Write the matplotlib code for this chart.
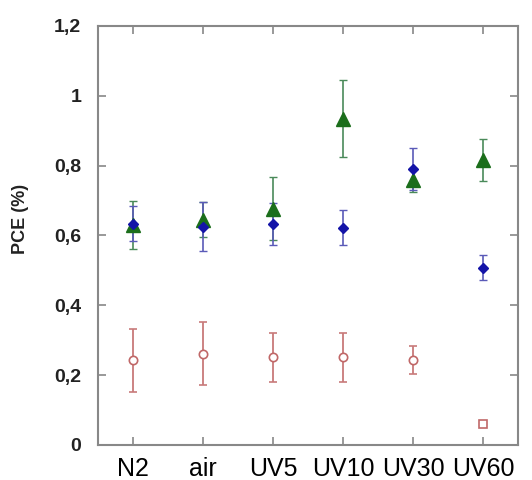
import numpy as np
import matplotlib.pyplot as plt

plt.rcParams['font.family'] = ['Liberation Sans', 'DejaVu Sans']

categories = ['N2', 'air', 'UV5', 'UV10', 'UV30', 'UV60']

green_pce = [0.63, 0.645, 0.677, 0.934, 0.758, 0.815]
green_err = [0.07, 0.05, 0.09, 0.11, 0.035, 0.06]

blue_pce = [0.634, 0.625, 0.634, 0.622, 0.789, 0.508]
blue_err = [0.05, 0.07, 0.06, 0.05, 0.06, 0.037]

red_pce = [0.243, 0.261, 0.251, 0.251, 0.243]
red_err = [0.09, 0.09, 0.07, 0.07, 0.04]
red_uv60 = 0.06

x = np.arange(len(categories))

fig = plt.figure(figsize=(5.32, 4.8), dpi=100)
ax = fig.add_axes([0.184, 0.073, 0.79, 0.873])

ax.errorbar(x[:5], red_pce, yerr=red_err, fmt='o', mfc='white', mec='#c06868',
            ms=6, mew=1.2, ecolor='#c87a7a', elinewidth=1.3, capsize=3)
ax.plot(x[5], red_uv60, 's', mfc='white', mec='#c06868', ms=6, mew=1.2)

ax.errorbar(x, green_pce, yerr=green_err, fmt='^', color='#1b6e1b', ms=10,
            ecolor='#4a8a5a', elinewidth=1.2, capsize=3)
ax.errorbar(x, blue_pce, yerr=blue_err, fmt='D', color='#1414a8', ms=5,
            ecolor='#5a5ab8', elinewidth=1.2, capsize=3)

ax.set_xlim(-0.5, 5.5)
ax.set_ylim(0, 1.2)
ax.set_xticks(x)
ax.set_xticklabels(categories, fontsize=18)
ax.set_yticks([0, 0.2, 0.4, 0.6, 0.8, 1.0, 1.2])
ax.set_yticklabels(['0', '0,2', '0,4', '0,6', '0,8', '1', '1,2'],
                   fontsize=14, fontweight='bold', color='#222222')
ax.set_ylabel('PCE (%)', fontsize=13, fontweight='bold', color='#222222')
ax.yaxis.set_label_coords(-0.165, 0.54)

ax.tick_params(direction='in', length=6, width=1.2, color='#888888',
               top=True, right=True)
ax.tick_params(axis='x', pad=9)
ax.tick_params(axis='y', pad=12)
for s in ax.spines.values():
    s.set_color('#888888')
    s.set_linewidth(1.5)

fig.savefig('out.png', dpi=100)
